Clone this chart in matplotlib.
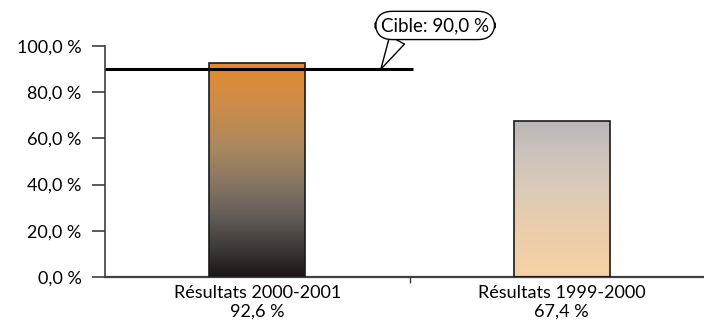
import numpy as np
import matplotlib
matplotlib.use("Agg")
import matplotlib.pyplot as plt
from matplotlib.colors import LinearSegmentedColormap

categories = ["Résultats 2000-2001", "Résultats 1999-2000"]
values = [92.6, 67.4]
value_labels = ["92,6 %", "67,4 %"]
target = 90.0
target_label = "Cible: 90,0 %"
yticks = [0, 20, 40, 60, 80, 100]
ytick_labels = ["0,0 %", "20,0 %", "40,0 %", "60,0 %", "80,0 %", "100,0 %"]

# gradient stops (position, colour), bottom -> top
grad_colors = [
    [(0.0, "#1a1515"), (0.12, "#3a3634"), (0.3, "#66605a"), (0.45, "#8a7762"),
     (0.6, "#a8885f"), (0.8, "#cd8c4c"), (1.0, "#e48a2e")],
    [(0.0, "#f6d3a6"), (0.3, "#eccdaa"), (0.55, "#dccbb8"), (0.8, "#cbc3bd"),
     (1.0, "#b9b6b6")],
]

plt.rcParams['font.family'] = ['Lato', 'DejaVu Sans']
fs = 13

fig = plt.figure(figsize=(7.04, 3.25), dpi=100)
ax = fig.add_axes([105 / 704, 48 / 325, 609 / 704, 231 / 325])

x = np.arange(len(categories))
bars = ax.bar(x, values, width=0.315, facecolor="none", edgecolor="#1a1a1a",
              linewidth=1.2, zorder=3)

for bar, cols in zip(bars, grad_colors):
    cmap = LinearSegmentedColormap.from_list("g", cols)
    bx, by = bar.get_x(), bar.get_y()
    bw, bh = bar.get_width(), bar.get_height()
    grad = np.linspace(0, 1, 256).reshape(-1, 1)
    im = ax.imshow(grad, cmap=cmap, origin="lower", aspect="auto",
                   extent=(bx, bx + bw, by, by + bh), zorder=2)
    im.set_clip_path(bar)

ax.hlines(target, -0.5, 0.51, color="black", linewidth=2.2, zorder=4)

ax.annotate(target_label, xy=(0.406, target), xytext=(0.584, 108.9),
            textcoords="data", ha="center", va="center", fontsize=13.5,
            annotation_clip=False, zorder=5,
            bbox=dict(boxstyle="round,pad=0.3,rounding_size=0.9",
                      fc="white", ec="black", lw=1),
            arrowprops=dict(arrowstyle="wedge,tail_width=0.9,shrink_factor=0.5",
                            fc="white", ec="black", lw=1, shrinkA=0, shrinkB=0,
                            relpos=(0.18, 0.0)))

ax.set_xlim(-0.5, 1.5)
ax.set_ylim(0, 100)
ax.set_yticks(yticks)
ax.set_yticklabels(ytick_labels, fontsize=fs)
ax.set_xticks(x)
ax.set_xticklabels([c + "\n" + v for c, v in zip(categories, value_labels)],
                   fontsize=fs, linespacing=1.2)
ax.tick_params(axis="x", length=0, pad=6)
ax.set_xticks([0.5], minor=True)
ax.tick_params(axis="x", which="minor", length=4.5, width=1, color="#404040")
ax.tick_params(axis="y", length=9.5, width=1.2, color="#404040", pad=7.5)

for side in ["top", "right"]:
    ax.spines[side].set_visible(False)
ax.spines["left"].set_color("#404040")
ax.spines["left"].set_linewidth(1.2)
ax.spines["bottom"].set_color("#404040")
ax.spines["bottom"].set_linewidth(1.6)

fig.savefig("out.png", dpi=100)
